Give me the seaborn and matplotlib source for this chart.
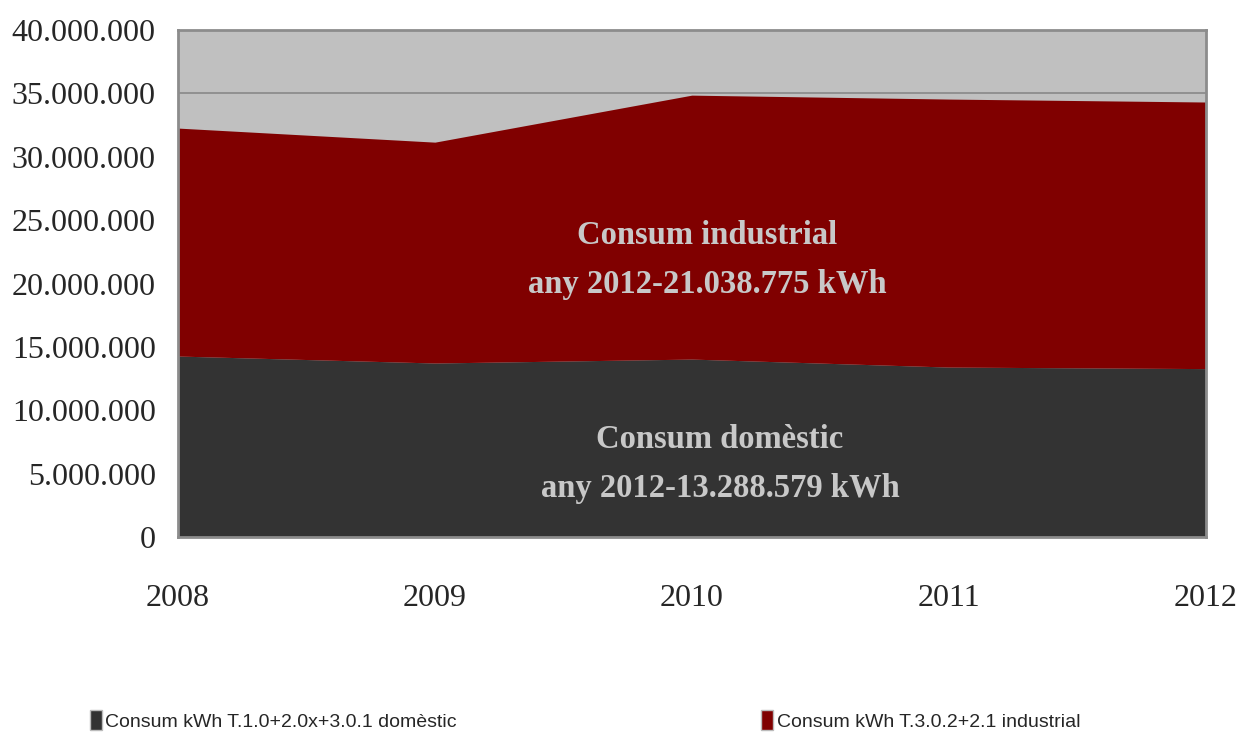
import matplotlib
matplotlib.use('Agg')
import matplotlib.pyplot as plt
import seaborn as sns
import pandas as pd
from matplotlib.ticker import FuncFormatter, MultipleLocator
from matplotlib.patches import Patch
from matplotlib import font_manager

# values (kWh)
years = [2008, 2009, 2010, 2011, 2012]
domestic = [14280000, 13730000, 14040000, 13410000, 13288579]
industrial = [17990000, 17430000, 20830000, 21150000, 21038775]

label_dom = 'Consum kWh T.1.0+2.0x+3.0.1 domèstic'
label_ind = 'Consum kWh T.3.0.2+2.1 industrial'

df = pd.DataFrame({'year': years, label_dom: domestic, label_ind: industrial})

sns.set_style('white')
plt.rcParams['font.family'] = ['Liberation Serif', 'DejaVu Serif']

fig = plt.figure(figsize=(12.38, 7.35), dpi=100)
ax = fig.add_axes([0.1438, 0.2694, 0.8300, 0.6896])
ax.set_facecolor('#c0c0c0')

ax.stackplot(df['year'], df[label_dom], df[label_ind],
             colors=['#333333', '#800000'], linewidth=0, zorder=2)

ax.set_xlim(2008, 2012)
ax.set_ylim(0, 40000000)
ax.yaxis.set_major_locator(MultipleLocator(5000000))
ax.set_xticks(years)
ax.yaxis.set_major_formatter(FuncFormatter(lambda v, p: f'{int(v):,}'.replace(',', '.')))
ax.grid(axis='y', color='#888888', linewidth=1.2, zorder=1)
ax.set_axisbelow(True)

ax.tick_params(axis='y', length=0, pad=16, labelsize=23)
ax.tick_params(axis='x', length=0, pad=34, labelsize=23)
for s in ax.spines.values():
    s.set_color('#8c8c8c')
    s.set_linewidth(2)

ax.text(2010.06, 21850000, 'Consum industrial\nany 2012-21.038.775 kWh',
        ha='center', va='center', color='#c8c8c8', fontsize=23.5,
        fontweight='bold', linespacing=1.75, zorder=3)
ax.text(2010.11, 5760000, 'Consum domèstic\nany 2012-13.288.579 kWh',
        ha='center', va='center', color='#c8c8c8', fontsize=23.5,
        fontweight='bold', linespacing=1.75, zorder=3)

# legend in a narrow sans if one is available
names = {f.name for f in font_manager.fontManager.ttflist}
narrow = [n for n in ['Liberation Sans Narrow', 'Arial Narrow', 'DejaVu Sans Condensed'] if n in names]
if narrow:
    leg_prop = {'family': [narrow[0], 'DejaVu Sans'], 'size': 16}
else:
    leg_prop = {'family': ['Liberation Sans', 'DejaVu Sans'], 'size': 14}

handles = [Patch(facecolor='#333333', edgecolor='#bbbbbb', label=label_dom),
           Patch(facecolor='#800000', edgecolor='#bbbbbb', label=label_ind)]
fig.legend(handles=handles, loc='lower left', bbox_to_anchor=(0.0585, -0.018),
           ncol=2, frameon=False, columnspacing=15.65, handlelength=0.6,
           handleheight=1.2, handletextpad=0.2, prop=leg_prop)

fig.savefig('out.png', dpi=100)
